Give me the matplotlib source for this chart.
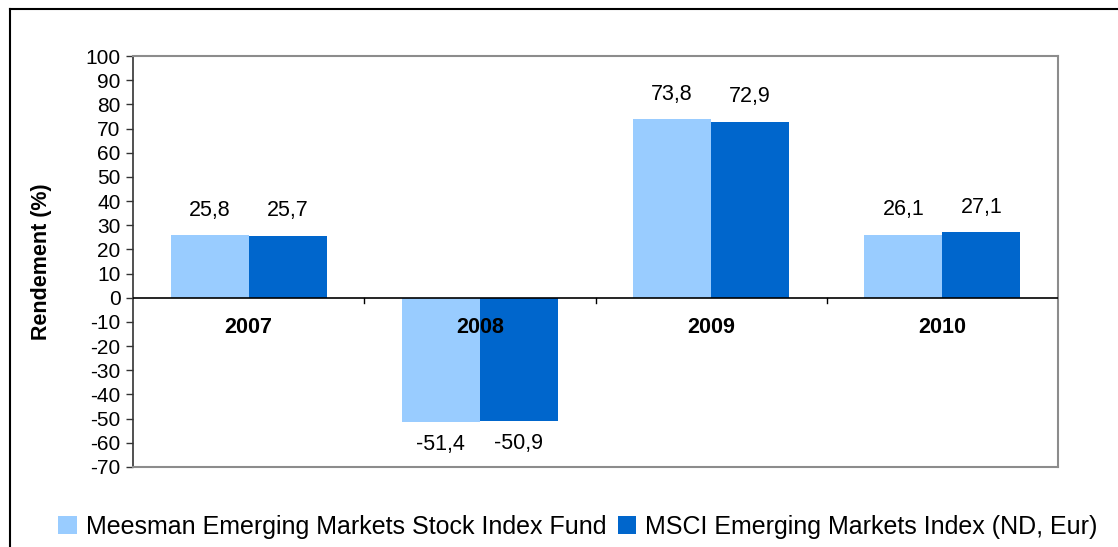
import matplotlib
matplotlib.use("Agg")
import matplotlib.pyplot as plt
from matplotlib.lines import Line2D
from matplotlib.patches import Patch
import numpy as np

plt.rcParams['font.family'] = ['Liberation Sans', 'DejaVu Sans']

years = ["2007", "2008", "2009", "2010"]
fund = [25.8, -51.4, 73.8, 26.1]
index = [25.7, -50.9, 72.9, 27.1]
fund_labels = ["25,8", "-51,4", "73,8", "26,1"]
index_labels = ["25,7", "-50,9", "72,9", "27,1"]
series_names = ["Meesman Emerging Markets Stock Index Fund",
                "MSCI Emerging Markets Index (ND, Eur)"]
yticks = list(range(-70, 101, 10))

c_light = "#99CCFF"
c_dark = "#0066CC"

W, H = 1118, 547
fig = plt.figure(figsize=(W / 100, H / 100), dpi=100)

# outer frame lines (top and left)
fig.add_artist(Line2D([10 / W, 1.0], [1 - 9 / H, 1 - 9 / H], color="black", lw=1.5, transform=fig.transFigure))
fig.add_artist(Line2D([10 / W, 10 / W], [0, 1 - 9 / H], color="black", lw=1.5, transform=fig.transFigure))

ax = fig.add_axes([133 / W, 1 - 467 / H, (1058 - 133) / W, (467 - 56) / H])
x = np.arange(len(years))
bw = 0.337
ax.bar(x - bw / 2, fund, bw, color=c_light, zorder=2)
ax.bar(x + bw / 2, index, bw, color=c_dark, zorder=2)

ax.set_xlim(-0.5, len(years) - 0.5)
ax.set_ylim(-70, 100)
ax.set_yticks(yticks)
ax.set_yticklabels([str(t) for t in yticks], fontsize=15)
ax.tick_params(axis='y', direction='out', length=5, width=1, color="#333333", pad=4)
ax.set_xticks([])

for s in ["top", "right", "bottom"]:
    ax.spines[s].set_color("#8c8c8c")
    ax.spines[s].set_linewidth(1.5)
ax.spines["left"].set_color("#333333")
ax.spines["left"].set_linewidth(1.2)

# zero line with category separator ticks
ax.axhline(0, color="black", lw=1.2, zorder=3)
for b in np.arange(0.5, len(years) - 0.5, 1.0):
    ax.plot([b, b], [0, -2.2], color="black", lw=1, zorder=3)

# year labels
for xi, yr in zip(x, years):
    ax.text(xi, -12.4, yr, ha="center", va="center", fontsize=15.5, fontweight="bold", zorder=4)

# value labels
def put(xpos, v, lab):
    off = 18 if v >= 0 else -16
    ax.annotate(lab, (xpos, v), xytext=(0, off), textcoords="offset points",
                ha="center", va="center", fontsize=15.5)

for xi, v, lab in zip(x, fund, fund_labels):
    put(xi - bw / 2, v, lab)
for xi, v, lab in zip(x, index, index_labels):
    put(xi + bw / 2, v, lab)

ax.set_ylabel("Rendement (%)", fontsize=15.5, fontweight="bold")
ax.yaxis.set_label_coords((52 - 133) / (1058 - 133), 0.5)

handles = [Patch(facecolor=c_light, edgecolor="none"), Patch(facecolor=c_dark, edgecolor="none")]
fig.legend(handles, series_names, loc="center", bbox_to_anchor=(578 / W, 1 - 527 / H),
           ncol=2, frameon=False, fontsize=18, handlelength=0.75, handleheight=0.75,
           handletextpad=0.35, columnspacing=0.45, borderpad=0)

fig.savefig("out.png", dpi=100)
